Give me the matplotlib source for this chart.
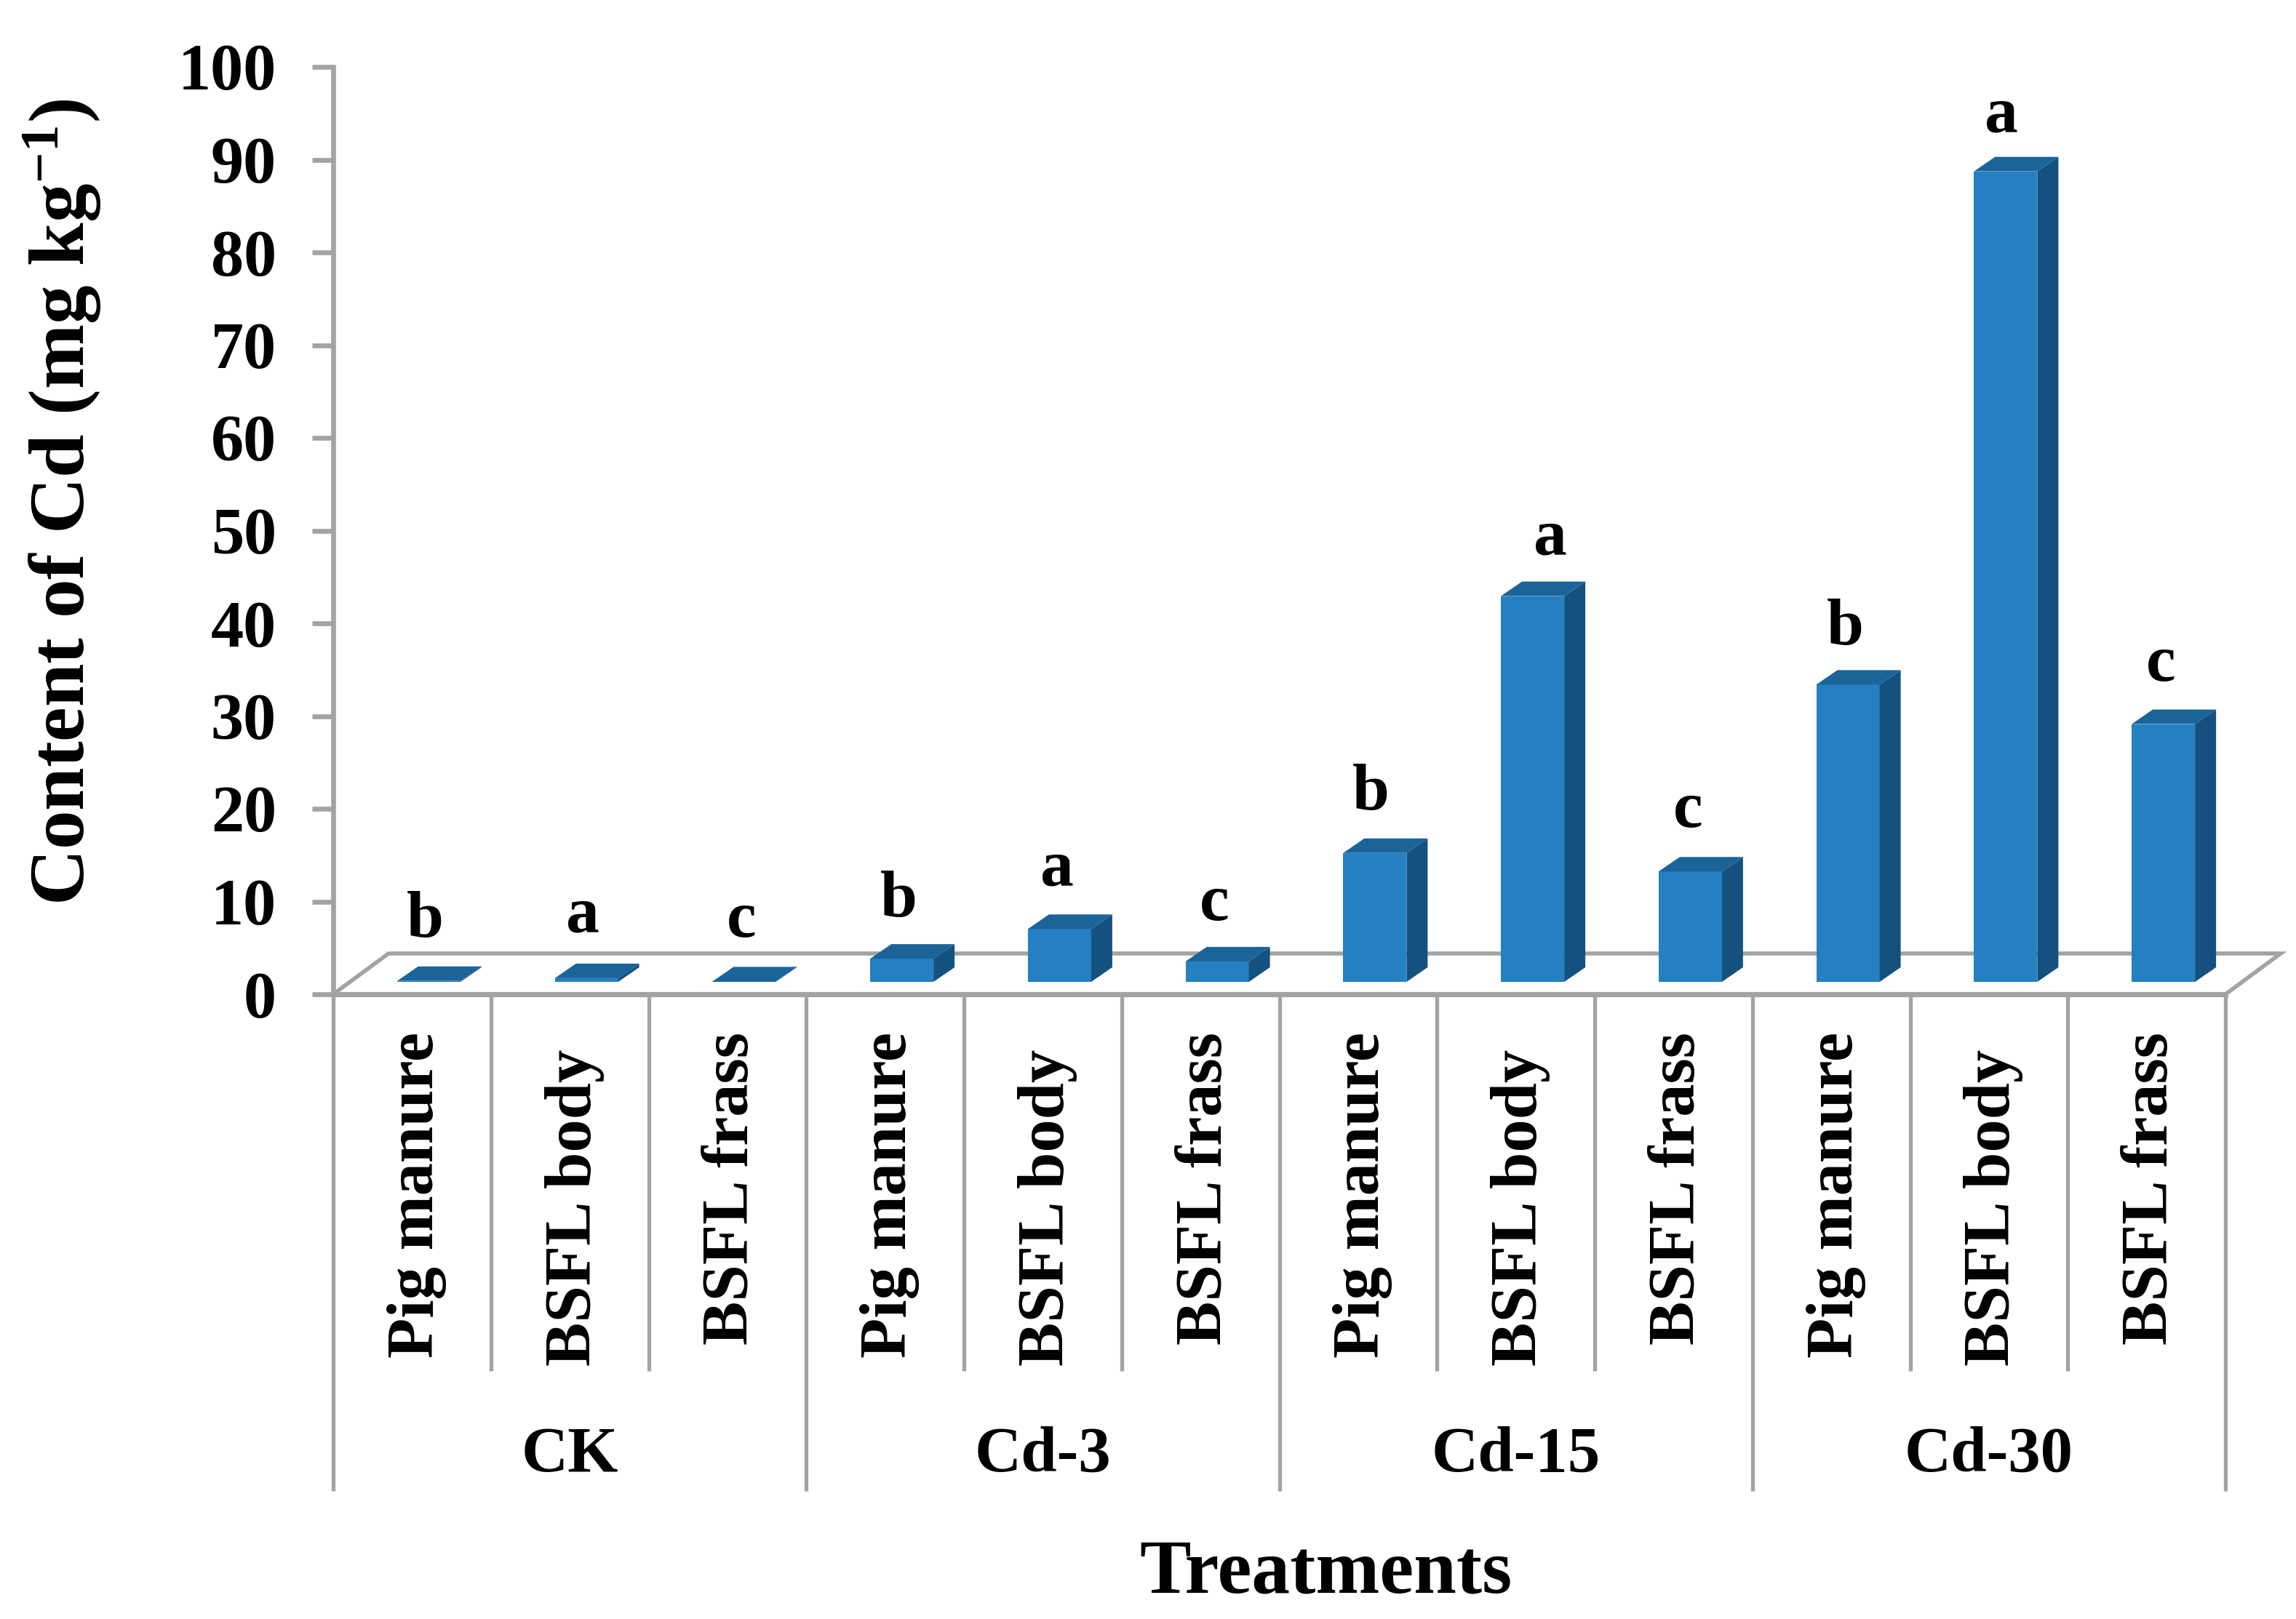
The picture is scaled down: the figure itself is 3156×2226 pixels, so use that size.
import matplotlib
matplotlib.use("Agg")
import matplotlib.pyplot as plt
from matplotlib.patches import Polygon
from matplotlib.transforms import blended_transform_factory

plt.rcParams['font.family'] = ['Liberation Serif', 'DejaVu Serif']
plt.rcParams['font.weight'] = 'bold'
plt.rcParams['mathtext.fontset'] = 'custom'
plt.rcParams['mathtext.bf'] = 'Liberation Serif:bold'
plt.rcParams['mathtext.rm'] = 'Liberation Serif:bold'
plt.rcParams['mathtext.default'] = 'bf'

# ---- data ----
groups = ['CK', 'Cd-3', 'Cd-15', 'Cd-30']
materials = ['Pig manure', 'BSFL body', 'BSFL frass']
values = [0.1, 0.4, 0.05, 2.5, 5.7, 2.2, 13.9, 41.6, 11.9, 32.05, 87.4, 27.8]
letters = ['b', 'a', 'c', 'b', 'a', 'c', 'b', 'a', 'c', 'b', 'a', 'c']
letter_x = [0.585, 1.58, 2.59, 3.585, 4.59, 5.59, 6.58, 7.72, 8.59, 9.59, 10.58, 11.59]
letter_y = [6.2, 6.7, 6.2, 8.4, 11.7, 8.0, 19.9, 47.4, 18.0, 37.7, 93.0, 33.8]
yticks = list(range(0, 101, 10))

W, H = 3156, 2226
DPI = 200
fig = plt.figure(figsize=(W / DPI, H / DPI), dpi=DPI, facecolor='white')
L, R, T, B = 458, 3059, 92, 1367
ax = fig.add_axes([L / W, 1 - B / H, (R - L) / W, (B - T) / H])
ax.set_xlim(0, 12)
ax.set_ylim(0, 100)
ax.patch.set_visible(False)
for s in ax.spines.values():
    s.set_visible(False)

GRAY = '#A3A3A3'
px_x = 12 / (R - L)      # data per pixel
px_y = 100 / (B - T)
lw_main = 2.4
lw_sep = 1.9

# 3-D floor
fx, fy = 76 * px_x, 56 * px_y
ax.plot([0, 12], [0, 0], color=GRAY, lw=lw_main + .2, clip_on=False, solid_capstyle='projecting', zorder=2)
ax.plot([0, fx, 12 + fx, 12], [0, fy, fy, 0], color=GRAY, lw=lw_main - .4, clip_on=False, zorder=1,
        solid_joinstyle='miter')
ax.plot([0, 0], [0, 100], color=GRAY, lw=lw_main, clip_on=False, solid_capstyle='projecting', zorder=2)

# y ticks
ax.set_yticks(yticks)
ax.set_xticks([])
ax.tick_params(axis='y', length=0, pad=0, labelleft=False)
trans_y = blended_transform_factory(fig.transFigure, ax.transData)
for t in yticks:
    ax.plot([-(29) * px_x, 0], [t, t], color=GRAY, lw=lw_main, clip_on=False, zorder=2, solid_capstyle='butt')
    fig.text(380 / W, t, str(t), transform=trans_y, ha='right', va='center_baseline',
             fontsize=32.5, fontweight='bold', color='black')

# bars
bw = 87 * px_x
shift = 23 * px_x
dx, dy = 29 * px_x, 20 * px_y
base = 17 * px_y
FRONT, SIDE, TOP = '#2580C2', '#14517F', '#1A6499'
for i, (v, letter, lx, ly) in enumerate(zip(values, letters, letter_x, letter_y)):
    xc = i + 0.5 + shift
    x0, x1 = xc - bw / 2, xc + bw / 2
    yb, yt = base, base + v
    ax.bar(xc, v, bw, bottom=base, color=FRONT, edgecolor='none', zorder=3, clip_on=False)
    ax.add_patch(Polygon([(x1, yb), (x1 + dx, yb + dy), (x1 + dx, yt + dy), (x1, yt)],
                         closed=True, fc=SIDE, ec='none', zorder=3, clip_on=False))
    ax.add_patch(Polygon([(x0, yt), (x0 + dx, yt + dy), (x1 + dx, yt + dy), (x1, yt)],
                         closed=True, fc=TOP, ec='none', zorder=3, clip_on=False))
    ax.text(lx, ly, letter, ha='center', va='baseline', fontsize=33,
            fontweight='bold', color='black', clip_on=False)

# multi-level category axis
to_y = lambda p: (B - p) * px_y
sep_bottom, grp_bottom = to_y(1885), to_y(2050)
for k in range(13):
    yb = grp_bottom if k % 3 == 0 else sep_bottom
    ax.plot([k, k], [0, yb], color=GRAY, lw=lw_sep, clip_on=False, zorder=2, solid_capstyle='butt')
label_top = {'Pig manure': 1419, 'BSFL body': 1443, 'BSFL frass': 1419}
for i in range(12):
    name = materials[i % 3]
    ax.text(i + 0.5 + 0.03, to_y(label_top[name]), name, rotation=90, ha='center', va='top',
            fontsize=32.6, fontweight='bold', color='black', clip_on=False)
for g, name in enumerate(groups):
    ax.text(3 * g + 1.5, to_y(2001), name, ha='center', va='center', fontsize=32,
            fontweight='bold', color='black', clip_on=False)

fig.text(1822 / W, 1 - 2164 / H, 'Treatments', ha='center', va='center', fontsize=38,
         fontweight='bold', color='black')
fig.text(85 / W, 1 - 690 / H, r'Content of Cd (mg kg$^{\mathbf{-1}}$)', rotation=90, ha='center', va='center',
         fontsize=38.5, fontweight='bold', color='black')

fig.savefig('out.png', dpi=DPI, facecolor='white')
